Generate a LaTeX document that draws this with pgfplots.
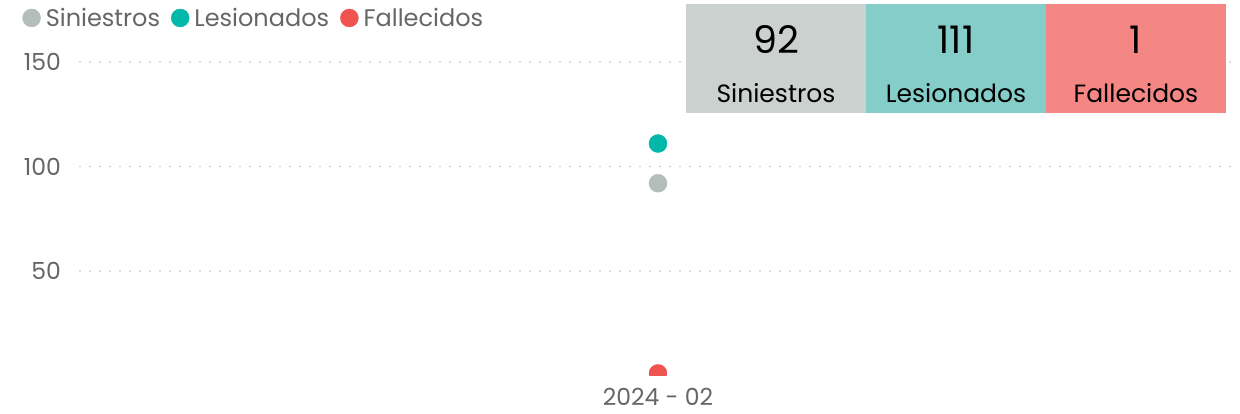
\documentclass[border=0pt]{standalone}
\usepackage{fontspec}
\setmainfont{Poppins}
\usepackage{pgfplots}
\pgfplotsset{compat=1.18}
\definecolor{cSin}{HTML}{B3BDBA}
\definecolor{cLes}{HTML}{01B8AA}
\definecolor{cFal}{HTML}{F05451}
\definecolor{kSin}{HTML}{CBD1CF}
\definecolor{kLes}{HTML}{84CDC8}
\definecolor{kFal}{HTML}{F48683}
\definecolor{txt}{HTML}{666666}
\definecolor{gridc}{HTML}{BDBDBD}
\begin{document}
\begin{tikzpicture}[x=1pt,y=1pt]
\path[use as bounding box] (0,0) rectangle (1240,414);
\begin{axis}[
  at={(80pt,38.5pt)}, anchor=south west,
  scale only axis, width=1156pt, height=335.4pt,
  xmin=-1, xmax=1, ymin=0, ymax=160.5,
  axis line style={draw=none},
  major tick length=0pt,
  xtick={0}, xticklabels={2024 - 02},
  ytick={50,100,150},
  ymajorgrids,
  grid style={gridc, line width=1.8pt, dash pattern=on 0pt off 10pt, line cap=round},
  /pgf/number format/assume math mode=true,
  ticklabel style={font=\fontsize{23.5}{26}\selectfont, text=txt},
  yticklabel style={inner sep=0pt, xshift=-19pt},
  xticklabel style={inner sep=0pt, yshift=-13pt},
  clip marker paths=true,
  legend columns=3,
  legend style={draw=none, fill=none, at={(-0.050,1.102)}, anchor=north west,
    font=\fontsize{24}{27}\selectfont, text=txt, inner sep=0pt,
    /tikz/every even column/.append style={column sep=9pt}},
  legend image code/.code={\fill (0pt,0pt) circle (9pt); \path (12pt,0pt);},
]
\addplot[only marks, mark=*, mark size=9pt, color=cSin] coordinates {(0,92)};
\addlegendentry{Siniestros}
\addplot[only marks, mark=*, mark size=9pt, color=cLes] coordinates {(0,111)};
\addlegendentry{Lesionados}
\addplot[only marks, mark=*, mark size=9pt, color=cFal] coordinates {(0,1)};
\addlegendentry{Fallecidos}
\end{axis}
\fill[kSin] (686,301) rectangle (866,410);
\fill[kLes] (866,301) rectangle (1046,410);
\fill[kFal] (1046,301) rectangle (1226,410);
\foreach \cx/\num/\lab in {776/92/Siniestros, 956/111/Lesionados, 1136/1/Fallecidos}{
  \node[font=\fontsize{38}{44}\selectfont, text=black] at (\cx,374) {\num};
  \node[font=\fontsize{25}{30}\selectfont, text=black] at (\cx,321) {\lab};
}
\end{tikzpicture}
\end{document}
